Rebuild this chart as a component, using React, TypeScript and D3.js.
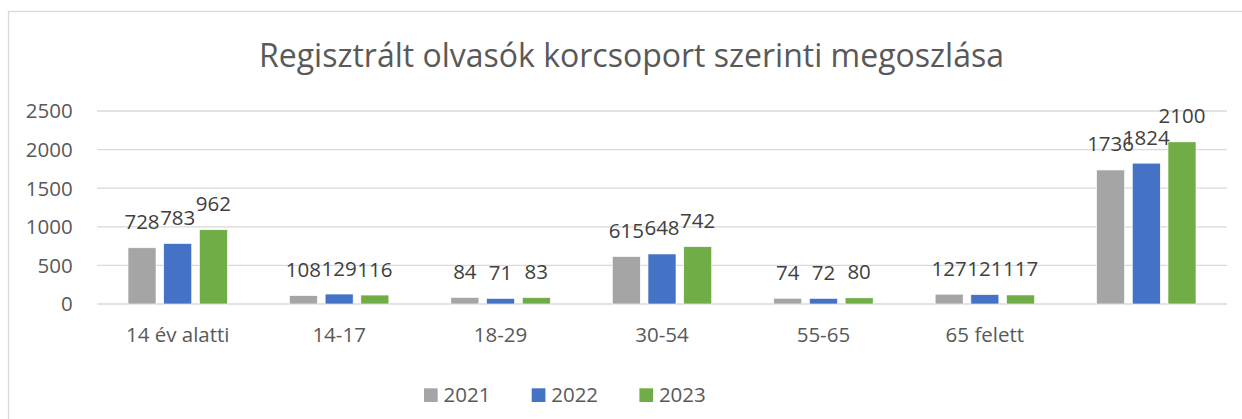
import React from "react";
import * as d3 from "d3";

const categories = ["14 év alatti", "14-17", "18-29", "30-54", "55-65", "65 felett", ""];
const years = ["2021", "2022", "2023"];
const values2021 = [728, 108, 84, 615, 74, 127, 1736];
const values2022 = [783, 129, 71, 648, 72, 121, 1824];
const values2023 = [962, 116, 83, 742, 80, 117, 2100];
const yTicks = [0, 500, 1000, 1500, 2000, 2500];
const colors = ["#A5A5A5", "#4472C4", "#70AD47"];
const title = "Regisztrált olvasók korcsoport szerinti megoszlása";

const W = 1242;
const H = 419;
const FONT = "'Open Sans', sans-serif";

export default function App() {
  const series = [values2021, values2022, values2023];
  const x0 = d3.scaleBand<string>().domain(categories.map((c, i) => String(i))).range([97, 1227]).padding(0);
  const y = d3.scaleLinear().domain([0, 2500]).range([304, 111]);
  const groupW = 99.4;
  const x1 = d3.scaleBand<string>().domain(years).range([0, groupW]).paddingInner(0.216).paddingOuter(0);
  const bw = x1.bandwidth();
  const legendX = d3.scaleBand<string>().domain(years).range([424, 424 + 107.7 * 3]);

  return (
    <svg width={W} height={H} style={{ position: "absolute", left: 0, top: 0 }} fontFamily={FONT}>
      <rect x={0} y={0} width={W} height={H} fill="#fff" />
      <rect x={8.5} y={11.5} width={W + 20} height={H + 20} fill="#fff" stroke="#D9D9D9" strokeWidth={1.3} />
      <text x={631.5} y={66.5} textAnchor="middle" fontSize={32} fill="#595959">{title}</text>
      {yTicks.map((t) => (
        <g key={t}>
          <line x1={97} x2={1227} y1={y(t)} y2={y(t)} stroke="#D9D9D9" strokeWidth={1.3} />
          <text x={72.7} y={y(t) + 7.3} textAnchor="end" fontSize={20.5} fill="#595959">{t}</text>
        </g>
      ))}
      {categories.map((c, i) => {
        const cx = (x0(String(i)) as number) + x0.bandwidth() / 2;
        const gx = cx - groupW / 2;
        return (
          <g key={i}>
            {series.map((s, k) => {
              const bx = gx + (x1(years[k]) as number);
              const top = y(s[i]);
              return (
                <g key={k}>
                  <rect x={bx} y={top} width={bw} height={y(0) - top} fill={colors[k]} stroke="#fff" strokeWidth={0.6} />
                  <text x={bx + bw / 2} y={top - 18.5} textAnchor="middle" fontSize={20.5} fill="#404040">{s[i]}</text>
                </g>
              );
            })}
            <text x={cx} y={341.7} textAnchor="middle" fontSize={20.5} fill="#595959">{c}</text>
          </g>
        );
      })}
      {years.map((yr, k) => {
        const lx = legendX(yr) as number;
        return (
          <g key={yr}>
            <rect x={lx} y={388.3} width={13.7} height={13.7} fill={colors[k]} />
            <text x={lx + 19.5} y={402.3} fontSize={20.5} fill="#595959">{yr}</text>
          </g>
        );
      })}
    </svg>
  );
}
